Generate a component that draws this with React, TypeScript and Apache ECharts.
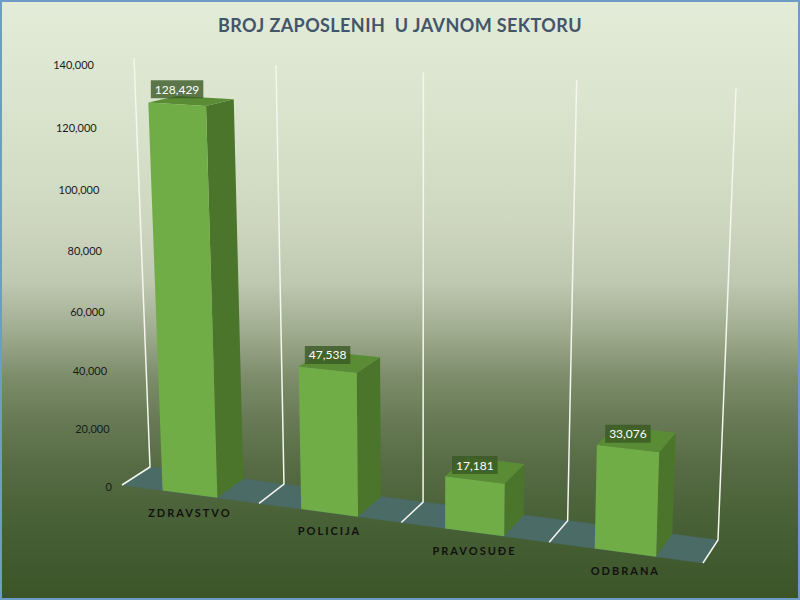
import React, { useEffect, useRef } from "react";
import * as echarts from "echarts";

const categories = ["ZDRAVSTVO", "POLICIJA", "PRAVOSUĐE", "ODBRANA"];
const values = [128429, 47538, 17181, 33076];
const yTicks = [0, 20000, 40000, 60000, 80000, 100000, 120000, 140000];
const yMax = 140000;
const titleText = "BROJ ZAPOSLENIH  U JAVNOM SEKTORU";

// perspective box (screen corners of the plot cube): F = front, B = back; 00 = bottom-left, 10 = bottom-right, 01 = top-left, 11 = top-right
const BOX = {
  F00: [122, 485], F10: [703, 563], F01: [104, 63], F11: [719, 97],
  B00: [150, 467], B10: [718, 540], B01: [134, 58], B11: [736, 88],
};
const KX = 1.08;
const KY = 1.06;

const warp = (t: number, k: number) => t / (t + k * (1 - t));
const lerp = (a: number[], b: number[], t: number) => [a[0] + (b[0] - a[0]) * t, a[1] + (b[1] - a[1]) * t];
function project(x: number, y: number, z: number) {
  const sx = warp(x, KX), sy = warp(y, KY);
  const f0 = lerp(BOX.F00, BOX.F10, sx), f1 = lerp(BOX.F01, BOX.F11, sx);
  const b0 = lerp(BOX.B00, BOX.B10, sx), b1 = lerp(BOX.B01, BOX.B11, sx);
  const f = lerp(f0, f1, sy), b = lerp(b0, b1, sy);
  return lerp(f, b, z);
}

const fmt = (v: number) => v.toLocaleString("en-US");

function norm(params: any, api: any, idx: number, v: number) {
  const cs = params.coordSys;
  const c = api.coord([idx, v]);
  return {
    x: (c[0] - cs.x) / cs.width,
    y: (cs.y + cs.height - c[1]) / cs.height,
    band: api.size([1, 0])[0] / cs.width,
  };
}

export default function App() {
  const ref = useRef<HTMLDivElement>(null);
  useEffect(() => {
    if (!ref.current) return;
    const chart = echarts.init(ref.current, undefined, { renderer: "svg" });
    const option: any = {
      animation: false,
      backgroundColor: {
        type: "linear", x: 0, y: 0, x2: 0, y2: 1,
        colorStops: [
          { offset: 0, color: "#e2ecd8" },
          { offset: 0.25, color: "#d6e0c9" },
          { offset: 0.38, color: "#cdd5be" },
          { offset: 0.47, color: "#bfc8b1" },
          { offset: 0.55, color: "#a0ad90" },
          { offset: 0.63, color: "#7c8c6a" },
          { offset: 0.7, color: "#677a55" },
          { offset: 0.78, color: "#566b44" },
          { offset: 0.88, color: "#475f35" },
          { offset: 1, color: "#3b5427" },
        ],
      },
      title: {
        text: titleText,
        left: "center",
        top: 11,
        textStyle: { fontFamily: "Lato", fontWeight: "bold", fontSize: 18, color: "#44546a" },
      },
      graphic: [
        {
          type: "rect", z: 100, silent: true,
          shape: { x: 1, y: 1, width: 798, height: 598 },
          style: { fill: "none", stroke: "#6f9cc6", lineWidth: 2 },
        },
      ],
      grid: { left: 120, right: 80, top: 60, bottom: 60 },
      xAxis: { type: "category", data: categories, show: false },
      yAxis: { type: "value", min: 0, max: yMax, interval: 20000, show: false },
      series: [
        {
          // floor and wall lines
          type: "custom", z: 1, clip: false,
          data: categories.map((_, i) => [i, 0]),
          renderItem: (params: any, api: any) => {
            const i = api.value(0);
            const n = norm(params, api, i, 0);
            const xl = n.x - n.band / 2, xr = n.x + n.band / 2;
            const floor = [project(xl, 0, 0), project(xr, 0, 0), project(xr, 0, 1), project(xl, 0, 1)];
            const children: any[] = [
              { type: "polygon", shape: { points: floor }, style: { fill: "#4b6b67", stroke: "#4b6b67", lineWidth: 0.5 } },
            ];
            const xs = [xl];
            if (i === categories.length - 1) xs.push(xr);
            xs.forEach((x) => {
              children.push({
                type: "polyline",
                shape: { points: [project(x, 1, 1), project(x, 0, 1), project(x, 0, 0)] },
                style: { stroke: "#f4f6ef", lineWidth: 1.5, fill: "none" },
              });
            });
            return { type: "group", children };
          },
        },
        {
          // bars
          type: "custom", z: 2, clip: false,
          data: values.map((v, i) => [i, v]),
          renderItem: (params: any, api: any) => {
            const i = api.value(0);
            const v = api.value(1);
            const n = norm(params, api, i, v);
            const half = n.band * 0.2;
            const x0 = n.x - half, x1 = n.x + half, Y = n.y;
            const front = [project(x0, 0, 0), project(x1, 0, 0), project(x1, Y, 0), project(x0, Y, 0)];
            const side = [project(x1, 0, 0), project(x1, 0, 1), project(x1, Y, 1), project(x1, Y, 0)];
            const top = [project(x0, Y, 0), project(x1, Y, 0), project(x1, Y, 1), project(x0, Y, 1)];
            const lp = project(n.x, Y, 0);
            return {
              type: "group",
              children: [
                { type: "polygon", shape: { points: side }, style: { fill: "#4a752b" } },
                { type: "polygon", shape: { points: top }, style: { fill: "#5a8c35" } },
                { type: "polygon", shape: { points: front }, style: { fill: "#70ad47" } },
                {
                  type: "text", z2: 10,
                  style: {
                    text: fmt(v), x: lp[0], y: lp[1] - 15, align: "center", verticalAlign: "middle",
                    fill: "#ffffff", font: "12px Lato", backgroundColor: "rgba(56,87,35,0.78)",
                    padding: [3, 4, 3, 4],
                  },
                },
              ],
            };
          },
        },
        {
          // value tick labels
          type: "custom", z: 3, clip: false,
          data: yTicks.map((t) => [0, t]),
          renderItem: (params: any, api: any) => {
            const t = api.value(1);
            const n = norm(params, api, 0, t);
            const p = project(0, n.y, 0);
            return {
              type: "text",
              style: {
                text: fmt(t), x: p[0] - 10, y: p[1] + 1, align: "right", verticalAlign: "middle",
                fill: "#1a1a1a", font: "11px Lato",
              },
            };
          },
        },
        {
          // category labels
          type: "custom", z: 3, clip: false,
          data: categories.map((_, i) => [i, 0]),
          renderItem: (params: any, api: any) => {
            const i = api.value(0);
            const n = norm(params, api, i, 0);
            const p = project(n.x, 0, 0);
            return {
              type: "text",
              style: {
                text: categories[i], x: p[0], y: p[1] + 18, align: "center", verticalAlign: "middle",
                fill: "#111111", font: "bold 11px Lato",
              },
            };
          },
        },
      ],
    };
    chart.setOption(option);
    const spaceText = () => {
      if (!ref.current) return;
      ref.current.querySelectorAll("text").forEach((t: any) => {
        const s = (t.textContent || "").trim();
        if (categories.includes(s)) t.style.letterSpacing = "2px";
        if (s === titleText.trim()) { t.style.letterSpacing = "0.4px"; t.style.whiteSpace = "pre"; }
      });
    };
    spaceText();
    chart.on("finished", spaceText);
    return () => chart.dispose();
  }, []);
  return <div ref={ref} style={{ position: "fixed", left: 0, top: 0, width: 800, height: 600 }} />;
}
